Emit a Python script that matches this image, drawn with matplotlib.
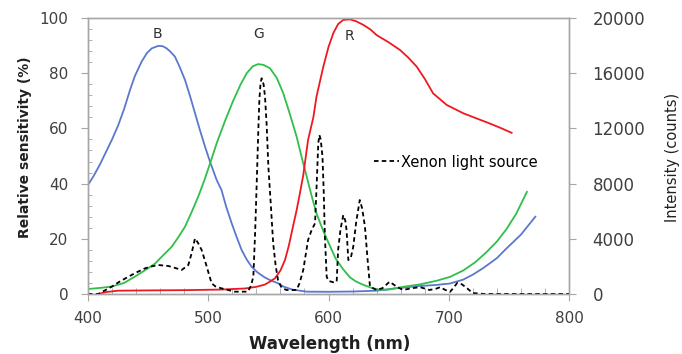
import numpy as np
import matplotlib
matplotlib.use("Agg")
import matplotlib.pyplot as plt
from matplotlib.ticker import MultipleLocator

plt.rcParams['font.family'] = ['DejaVu Sans']

# blue (B) sensitivity
b_wl = [400, 405, 410, 415, 420, 425, 430, 435, 439, 444.6, 449, 453, 458.5, 462, 465.4,
        468.5, 472.3, 476.5, 480.7, 485, 489, 493, 497.3, 501.5, 507, 511, 515, 519.5, 524,
        527.8, 532, 536, 541, 547, 552, 558, 562.4, 570, 581.9, 600, 620, 640, 655, 673, 690,
        701, 712, 720, 729, 740, 748, 760, 772]
b_val = [39.5, 43, 47, 51.5, 56, 61, 67, 74, 79, 84.2, 87.3, 89, 89.9, 89.8, 89,
         87.8, 86, 82, 77.5, 71.5, 65.5, 59.5, 53.4, 47.9, 41.3, 37.7, 31.5, 25.6, 20.2,
         15.9, 12.5, 9.9, 7.8, 6.0, 4.9, 3.9, 2.7, 1.6, 0.85, 0.8, 0.9, 1.2, 2.0, 2.8, 3.3,
         3.8, 5.2, 7, 9.5, 13, 16.5, 21.5, 28]

# green (G)
g_wl = [400, 410, 419.7, 430, 439, 447, 455.7, 462, 469.6, 475, 480.7, 486, 491.7, 497, 501.5,
        507, 514, 521, 527, 532, 537, 541.6, 546, 551.3, 557, 562.4, 568, 573.5, 578, 581.9,
        586, 590, 596, 601, 606, 612.3, 617.9, 623, 629, 636, 642.8, 650, 662, 675, 690, 701,
        712, 722, 731, 740, 748, 756, 765]
g_val = [1.8, 2.2, 2.7, 4, 6.3, 8.5, 11, 13.8, 17.1, 20.5, 24.4, 29.5, 35.3, 41.5, 47.3,
         54.6, 62.8, 70.3, 76, 80, 82.5, 83.3, 83, 81.8, 78.3, 72.7, 65, 57, 49, 42.5,
         35.5, 29.2, 22.5, 17.6, 12.8, 8.9, 6.0, 4.5, 3.3, 2.2, 1.5, 1.6, 2.6, 3.4, 4.8, 6.2,
         8.5, 11.5, 15, 19, 23.5, 29, 37]

# red (R)
r_wl = [408.6, 415, 425, 450, 480.7, 510, 530.6, 540, 547, 551, 555.5, 560, 563.8, 567, 570,
        573.5, 576, 579, 583, 587.4, 590, 595.7, 600, 604, 608, 612.3, 617.9, 623, 629, 635,
        640, 650, 659.5, 666, 673.3, 680, 687, 698.3, 712, 722, 734, 744, 752.3]
r_val = [0, 0.7, 1.2, 1.3, 1.4, 1.6, 2.0, 2.6, 3.4, 4.4, 5.7, 8.5, 12.3, 17.5, 23.5,
         30.4, 36, 43, 55.8, 64, 71.5, 82.4, 89.5, 94.5, 97.8, 99.3, 99.5, 98.8, 97.5, 95.8,
         93.8, 91.2, 88.4, 85.8, 82.4, 78, 72.7, 68.5, 65.5, 63.8, 61.8, 60, 58.4]

# xenon light source (counts)
xe_wl = [400, 408.6, 419.7, 426, 433.5, 440, 447.4, 453, 458.5, 466.8, 472, 477.9, 483.4, 486,
         489, 491.5, 494.5, 498, 502.8, 506, 511, 516, 522, 528, 533, 535.5, 537.5, 539, 540.3,
         541.5, 542.5, 543.5, 544.4, 546, 547.2, 548.6, 550, 552, 554, 556, 558, 561, 565,
         569, 573.5, 576, 579, 583, 586, 588.8, 590.2, 591.5, 592.4, 593.5, 595, 596, 597,
         598.5, 600, 604, 606.8, 608, 610, 612.3, 614, 615, 616.5, 618.5, 620.6, 623, 626,
         628, 630.3, 632.5, 634.5, 640, 645, 650.8, 656.7, 662, 668, 676, 684, 690, 693, 697,
         701, 704, 707, 711, 715, 720, 730, 800]
xe_val = [0, 0, 530, 880, 1250, 1550, 1860, 2000, 2100, 2030, 1900, 1740, 2100, 2900,
          4030, 3700, 3190, 2200, 770, 550, 410, 300, 170, 170, 170, 600, 1250, 4500, 8020,
          11500, 14060, 15300, 15630, 15200, 14300, 12200, 9220, 6500, 3670, 2100, 1010, 450, 290,
          290, 290, 800, 1740, 3910, 4640, 5120, 8000, 10920, 11520, 11200, 9950, 7500, 4150,
          1250, 950, 850, 890, 3190, 4700, 5720, 5300, 4640, 2460, 2600, 3430, 5200, 6810,
          6200, 4880, 2500, 530, 290, 430, 890, 530, 290, 400, 500, 290, 400, 500, 300,
          150, 450, 800, 700, 430, 70, 0, 0]

fig = plt.figure(figsize=(6.82, 3.54), dpi=100)
ax = fig.add_axes([88/682, 60/354, 481/682, 276/354])
ax2 = ax.twinx()

ax.plot(b_wl, b_val, color='#5b78cc', lw=1.3)
ax.plot(g_wl, g_val, color='#2fbf4a', lw=1.3)
ax.plot(r_wl, r_val, color='#f01820', lw=1.3)
ax2.plot(xe_wl, xe_val, color='black', lw=1.3, ls=(0, (2.5, 1.8)), label='Xenon light source')

ax.set_xlim(400, 800)
ax.set_ylim(0, 100)
ax2.set_ylim(0, 20000)

ax.xaxis.set_major_locator(MultipleLocator(100))
ax.xaxis.set_minor_locator(MultipleLocator(20))
ax.yaxis.set_major_locator(MultipleLocator(20))
ax.yaxis.set_minor_locator(MultipleLocator(4))
ax2.yaxis.set_major_locator(MultipleLocator(4000))

for a in (ax, ax2):
    for s in a.spines.values():
        s.set_color('#a6a6a6')
        s.set_linewidth(1.0)

tc = '#404040'
ax.tick_params(axis='x', which='major', direction='out', length=5, color='#a6a6a6',
               labelsize=11, labelcolor=tc, pad=7)
ax.tick_params(axis='x', which='minor', direction='in', length=4, color='#a6a6a6')
ax.tick_params(axis='y', which='major', direction='out', length=5, color='#a6a6a6',
               labelsize=11, labelcolor=tc, pad=9)
ax.tick_params(axis='y', which='minor', direction='in', length=3, color='#a6a6a6')
ax2.tick_params(axis='y', which='major', direction='out', length=5, color='#a6a6a6',
                labelsize=12, labelcolor=tc, pad=12)

ax.text(458, 91.5, 'B', ha='center', va='bottom', fontsize=10, color='#303030')
ax.text(542, 91.5, 'G', ha='center', va='bottom', fontsize=10, color='#303030')
ax.text(617, 91, 'R', ha='center', va='bottom', fontsize=10, color='#303030')

ax2.legend(loc='center left', bbox_to_anchor=((374-88)/481, (294-162)/276), frameon=False,
           handlelength=1.7, handletextpad=0.15, fontsize=10.5, borderpad=0, borderaxespad=0)

fig.text(330/682, 1-344/354, 'Wavelength (nm)', ha='center', va='center',
         fontsize=12, fontweight='bold', color='#202020')
fig.text(25/682, 1-147/354, 'Relative sensitivity (%)', ha='center', va='center',
         rotation=90, fontsize=10, fontweight='bold', color='#202020')
fig.text(673/682, 1-157/354, 'Intensity (counts)', ha='center', va='center',
         rotation=90, fontsize=10.5, color='#202020')

fig.savefig('out.png', dpi=100)
